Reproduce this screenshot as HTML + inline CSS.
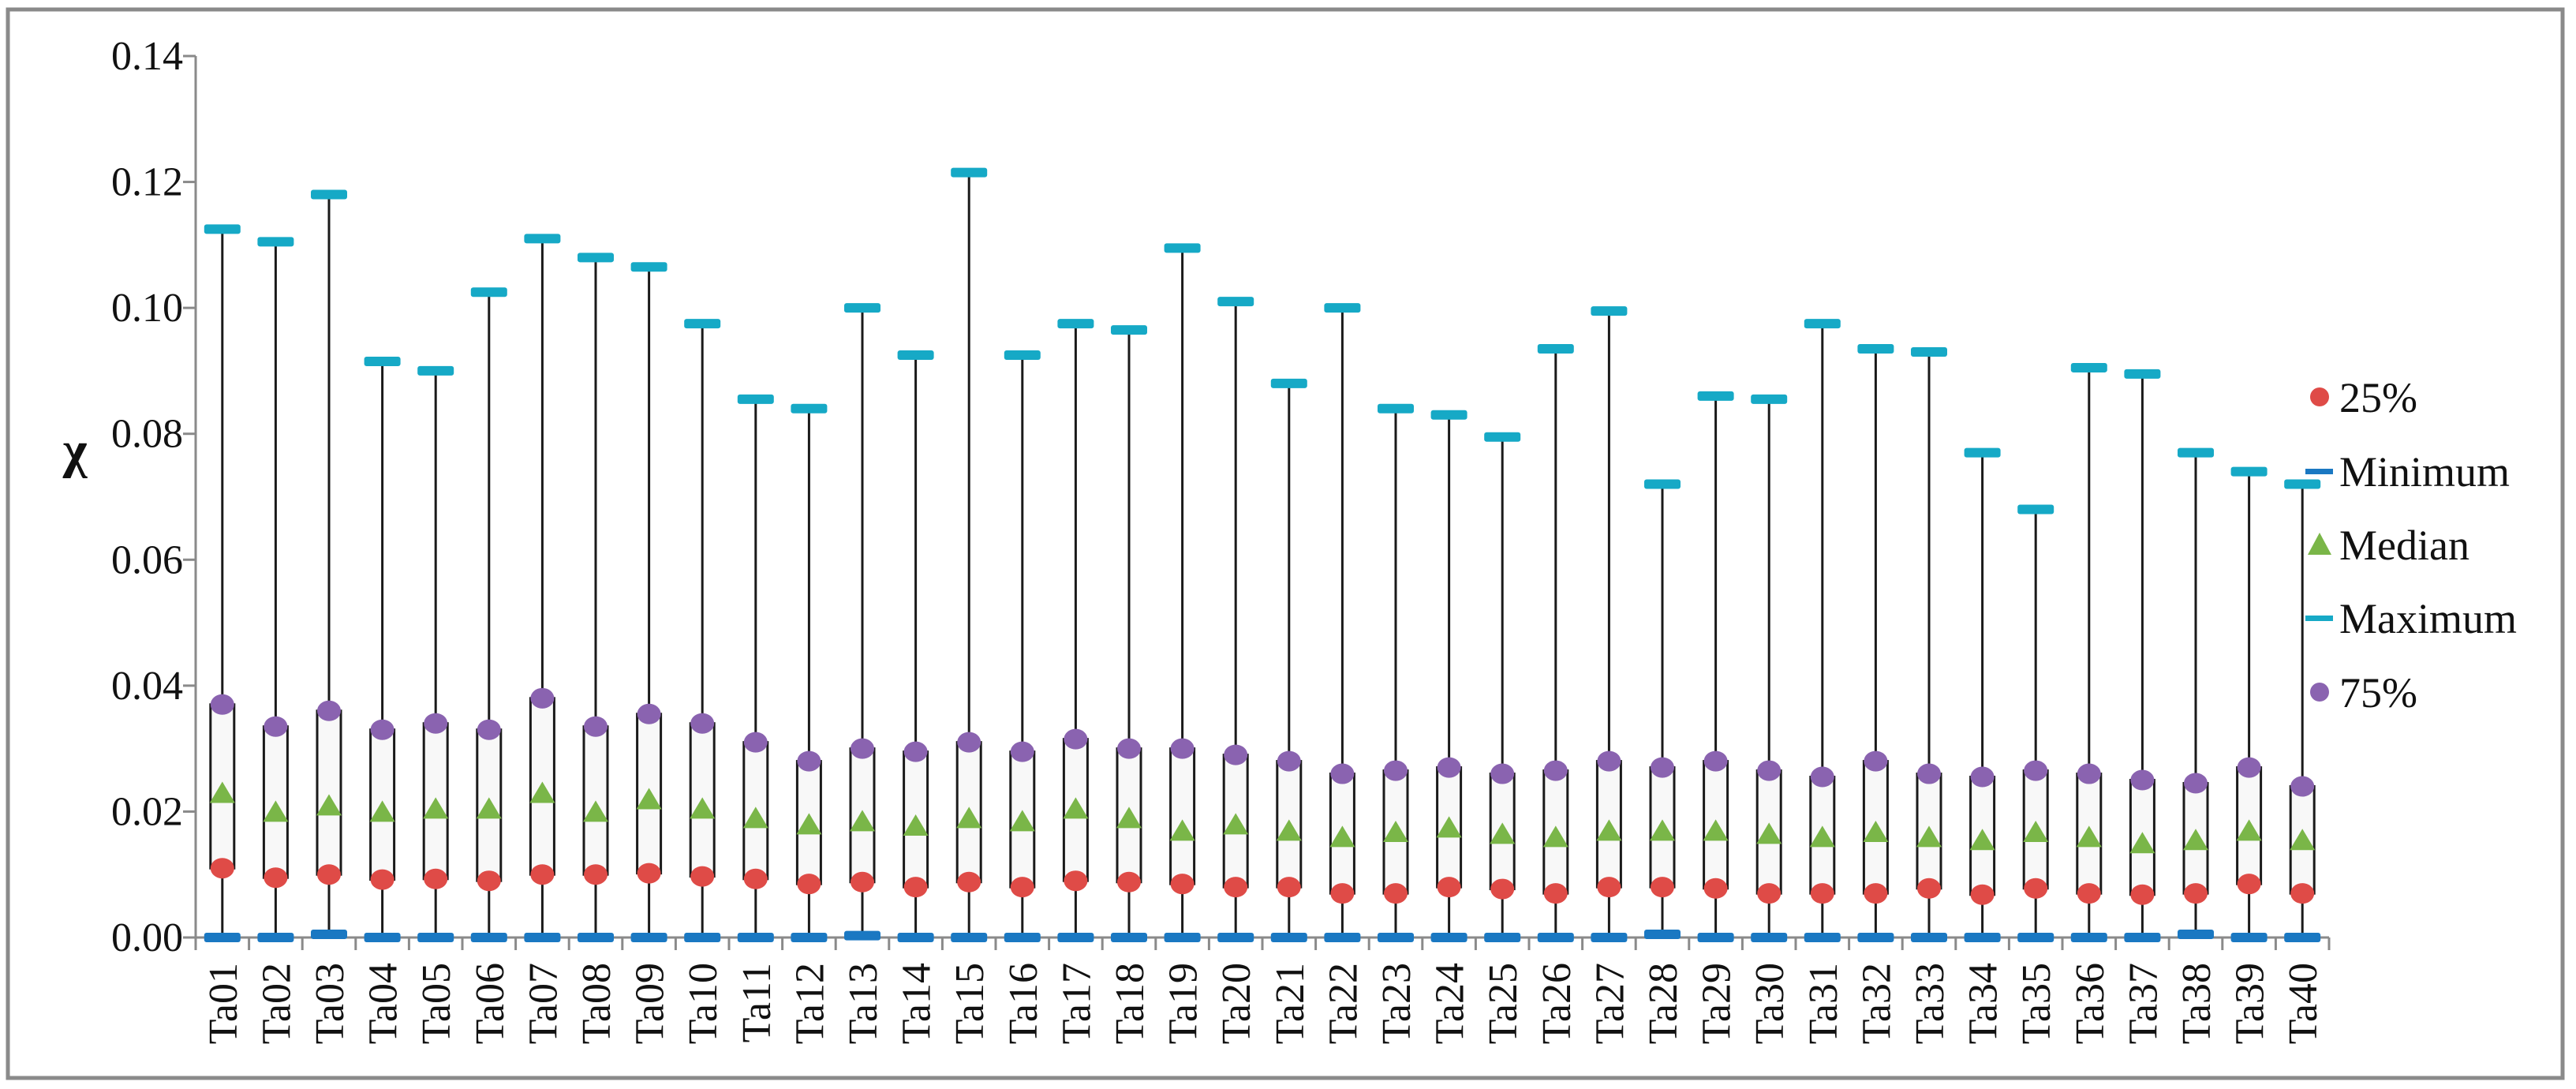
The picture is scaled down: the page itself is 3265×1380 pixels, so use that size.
<!DOCTYPE html>
<html><head><meta charset="utf-8">
<style>
html,body{margin:0;padding:0;background:#fff;}
svg{display:block;}
text{font-family:"Liberation Serif","Tinos","Times New Roman","DejaVu Serif",serif;fill:#111;}
</style></head>
<body>
<svg id="chart" width="3265" height="1380" viewBox="0 0 3265 1380" xmlns="http://www.w3.org/2000/svg">
<rect x="10" y="12" width="3238" height="1354" fill="#fff" stroke="#8a8a8a" stroke-width="5"/>
<g id="grid"></g>
<g id="marks"></g>
<text x="95" y="592" font-size="66" font-weight="bold" text-anchor="middle">χ</text>
<g id="legend"></g>
</svg>
<script>
const categories = ["Ta01","Ta02","Ta03","Ta04","Ta05","Ta06","Ta07","Ta08","Ta09","Ta10","Ta11","Ta12","Ta13","Ta14","Ta15","Ta16","Ta17","Ta18","Ta19","Ta20","Ta21","Ta22","Ta23","Ta24","Ta25","Ta26","Ta27","Ta28","Ta29","Ta30","Ta31","Ta32","Ta33","Ta34","Ta35","Ta36","Ta37","Ta38","Ta39","Ta40"];
const maxVals = [0.1125,0.1105,0.118,0.0915,0.090,0.1025,0.111,0.108,0.1065,0.0975,0.0855,0.084,0.100,0.0925,0.1215,0.0925,0.0975,0.0965,0.1095,0.101,0.088,0.100,0.084,0.083,0.0795,0.0935,0.0995,0.072,0.086,0.0855,0.0975,0.0935,0.093,0.077,0.068,0.0905,0.0895,0.077,0.074,0.072];
const q3Vals = [0.037,0.0335,0.036,0.033,0.034,0.033,0.038,0.0335,0.0355,0.034,0.031,0.028,0.030,0.0295,0.031,0.0295,0.0315,0.030,0.030,0.029,0.028,0.026,0.0265,0.027,0.026,0.0265,0.028,0.027,0.028,0.0265,0.0255,0.028,0.026,0.0255,0.0265,0.026,0.025,0.0245,0.027,0.024];
const medianVals = [0.022,0.019,0.020,0.019,0.0195,0.0195,0.022,0.019,0.021,0.0195,0.018,0.017,0.0175,0.0168,0.018,0.0175,0.0195,0.018,0.016,0.017,0.016,0.015,0.0158,0.0165,0.0155,0.015,0.016,0.016,0.016,0.0155,0.015,0.0158,0.015,0.0145,0.0158,0.015,0.014,0.0145,0.016,0.0145];
const q1Vals = [0.011,0.0095,0.010,0.0092,0.0093,0.009,0.010,0.010,0.0102,0.0097,0.0093,0.0085,0.0088,0.008,0.0088,0.008,0.009,0.0088,0.0085,0.008,0.008,0.007,0.007,0.008,0.0077,0.007,0.008,0.008,0.0078,0.007,0.007,0.007,0.0078,0.0068,0.0078,0.007,0.0068,0.007,0.0085,0.007];
const minVals = [0,0,0.0005,0,0,0,0,0,0,0,0,0,0.0003,0,0,0,0,0,0,0,0,0,0,0,0,0,0,0.0005,0,0,0,0,0,0,0,0,0,0.0005,0,0];
const yTicks = [0,0.02,0.04,0.06,0.08,0.10,0.12,0.14];
const yTickLabels = ["0.00","0.02","0.04","0.06","0.08","0.10","0.12","0.14"];
const legendLabels = ["25%","Minimum","Median","Maximum","75%"];

const NS="http://www.w3.org/2000/svg";
const X0=248, X1=2952, Y0=1188, YTOP=71, YMAX=0.14;
const band=(X1-X0)/categories.length;
function xPos(i){return X0+band*(i+0.5);}
function yPos(v){return Y0-(v/YMAX)*(Y0-YTOP);}
function mk(tag,attrs,parent){const e=document.createElementNS(NS,tag);for(const k in attrs)e.setAttribute(k,attrs[k]);parent.appendChild(e);return e;}
const grid=document.getElementById('grid'), marks=document.getElementById('marks'), legend=document.getElementById('legend');

let ax=mk('line',{x1:X0,y1:YTOP,x2:X0,y2:Y0,stroke:'#8a8a8a','stroke-width':3},grid);


let bx=mk('line',{x1:X0,y1:Y0,x2:X1,y2:Y0,stroke:'#8a8a8a','stroke-width':3},grid);


yTicks.forEach((t,i)=>{
  const y=yPos(t);
  const tk=mk('line',{x1:X0-16,y1:y,x2:X0,y2:y,stroke:'#8a8a8a','stroke-width':3},grid);
  
  
  const tl=mk('text',{x:232,y:y+17,'font-size':52,'text-anchor':'end'},grid);
  tl.textContent=yTickLabels[i];
  
  
});
for(let i=0;i<=categories.length;i++){
  const x=X0+band*i;
  const tk=mk('line',{x1:x,y1:Y0,x2:x,y2:Y0+16,stroke:'#8a8a8a','stroke-width':3},grid);
  
  
}
categories.forEach((c,i)=>{
  const x=xPos(i);
  const t=mk('text',{x:0,y:0,'font-size':52,'text-anchor':'end',transform:`translate(${x+18},1220) rotate(-90)`},grid);
  t.textContent=c;
  
  
});

categories.forEach((c,i)=>{
  const x=xPos(i);
  const g=mk('g',{},marks);
  
  
  const wh=mk('line',{x1:x,y1:yPos(minVals[i]),x2:x,y2:yPos(maxVals[i]),stroke:'#1a1a1a','stroke-width':3},g);
  
  
  const yq3=yPos(q3Vals[i]), yq1=yPos(q1Vals[i]);
  const bxr=mk('rect',{x:x-15,y:yq3,width:30,height:yq1-yq3,fill:'#f8f8f8',stroke:'#1a1a1a','stroke-width':3},g);
  
  
  const mx=mk('rect',{x:x-23,y:yPos(maxVals[i])-6,width:46,height:12,rx:3,fill:'#16a9c6'},g);
  
  
  const mn=mk('rect',{x:x-23,y:yPos(minVals[i])-6,width:46,height:12,rx:3,fill:'#1a78c2'},g);
  
  
  const ym=yPos(medianVals[i]);
  const md=mk('polygon',{points:`${x-16},${ym+5} ${x+16},${ym+5} ${x},${ym-22}`,fill:'#7ab648'},g);
  
  
  const p1=mk('ellipse',{cx:x,cy:yq1,rx:15,ry:13,fill:'#df4b47'},g);
  
  
  const p3=mk('ellipse',{cx:x,cy:yq3,rx:15,ry:13,fill:'#8a63b0'},g);
  
  
});

const LY=[503,597,690,783,877];
legendLabels.forEach((lab,i)=>{
  const y=LY[i];
  const g=mk('g',{},legend);
  
  
  if(i===0) mk('circle',{cx:2940,cy:y,r:12,fill:'#df4b47'},g);
  if(i===1) mk('rect',{x:2922,y:y-3,width:35,height:7,fill:'#1a78c2'},g);
  if(i===2) mk('polygon',{points:`${2925},${y+13} ${2955},${y+13} ${2940},${y-15}`,fill:'#7ab648'},g);
  if(i===3) mk('rect',{x:2922,y:y-3,width:35,height:7,fill:'#16a9c6'},g);
  if(i===4) mk('circle',{cx:2940,cy:y,r:12,fill:'#8a63b0'},g);
  const t=mk('text',{x:2965,y:y+19,'font-size':54},g);
  t.textContent=lab;
});
</script>
</body></html>
